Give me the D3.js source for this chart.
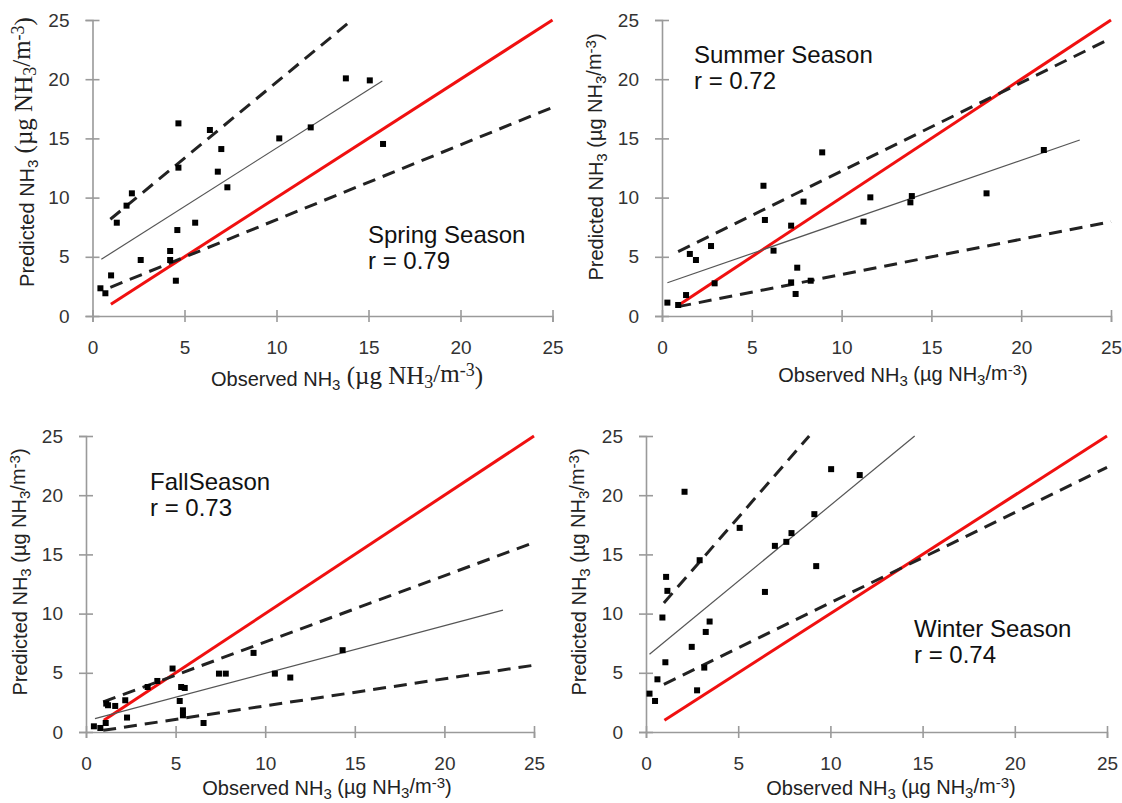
<!DOCTYPE html>
<html>
<head>
<meta charset="utf-8">
<script src="https://cdn.jsdelivr.net/npm/d3@7"></script>
<style>
  body { margin: 0; background: #fff; }
  svg { display: block; }
  text { font-family: "Liberation Sans", Arial, sans-serif; }
</style>
</head>
<body>
<svg id="chart" width="1122" height="803"></svg>
<script>
// tick values shared by every panel
const ticks = [0, 5, 10, 15, 20, 25];
// 1:1 line goes from 1 to 25
const oneToOne = [1, 25];

// Spring
const springObs  = [0.43, 0.70, 1.01, 1.32, 1.85, 2.14, 2.62, 4.22, 4.22, 4.53, 4.61, 4.67, 4.67, 5.58, 6.38, 6.81, 7.00, 7.33, 10.15, 11.86, 13.77, 15.07, 15.79];
const springPred = [2.34, 1.92, 3.43, 7.88, 9.32, 10.36, 4.73, 5.49, 4.73, 2.98, 7.26, 12.53, 16.27, 7.88, 15.71, 12.19, 14.10, 10.87, 15.00, 15.93, 20.07, 19.90, 14.53];
const springFit   = [0.48, 4.79, 15.75, 19.85];
const springUpper = [0.97, 8.17, 14.1, 25];
const springLower = [0.97, 2.42, 25, 17.62];

// Summer
const summerObs  = [0.30, 0.90, 1.34, 1.55, 1.89, 2.73, 2.93, 5.65, 5.73, 6.21, 7.19, 7.19, 7.44, 7.53, 7.88, 8.28, 8.92, 11.22, 11.60, 13.83, 13.91, 18.07, 21.26];
const summerPred = [1.13, 0.93, 1.77, 5.24, 4.73, 5.91, 2.76, 11.00, 8.11, 5.52, 7.63, 2.84, 1.86, 4.08, 9.66, 2.98, 13.82, 7.97, 10.02, 9.60, 10.13, 10.36, 14.02];
const summerFit   = [0.3, 2.81, 23.26, 14.86];
const summerUpper = [0.9, 5.43, 25, 23.45];
const summerLower = [0.9, 0.79, 25, 7.97];

// Fall
const fallObs  = [0.44, 0.80, 1.10, 1.13, 1.23, 1.63, 2.19, 2.29, 3.44, 3.98, 4.83, 5.23, 5.31, 5.41, 5.41, 5.51, 6.56, 7.42, 7.80, 9.35, 10.54, 11.40, 14.32];
const fallPred = [0.48, 0.34, 0.76, 2.40, 2.26, 2.20, 2.68, 1.22, 3.80, 4.31, 5.36, 2.62, 3.80, 1.83, 1.41, 3.72, 0.76, 4.93, 4.93, 6.68, 4.93, 4.60, 6.91];
const fallFit   = [0.5, 1.13, 23.27, 10.29];
const fallUpper = [0.96, 2.54, 25, 16.0];
const fallLower = [0.96, 0.14, 25, 5.64];

// Winter
const winterObs  = [0.19, 0.49, 0.62, 0.89, 1.05, 1.09, 1.16, 2.09, 2.48, 2.77, 2.91, 3.16, 3.24, 3.45, 5.08, 6.45, 6.99, 7.61, 7.89, 9.13, 9.23, 10.04, 11.59];
const winterPred = [3.24, 2.62, 4.45, 9.67, 5.89, 13.10, 11.92, 20.29, 7.19, 3.52, 14.51, 5.44, 8.45, 9.33, 17.24, 11.83, 15.72, 16.06, 16.80, 18.40, 14.01, 22.20, 21.70];
const winterFit   = [0.19, 6.57, 14.57, 25];
const winterUpper = [0.97, 10.9, 8.85, 25];
const winterLower = [0.97, 4.03, 25, 22.35];

const seasonNames = ['Spring Season', 'Summer Season', 'FallSeason', 'Winter Season'];
const rLabels = ['r = 0.79', 'r = 0.72', 'r = 0.73', 'r = 0.74'];

// layout of each panel (plot box, label spots) - pixels only
const panels = [
  { obs: springObs, pred: springPred, fit: springFit, upper: springUpper, lower: springLower,
    box: [92.5, 20, 552.5, 316], lab: [368, 243], yt: [34, 152], xt: [347, 386], serif: true },
  { obs: summerObs, pred: summerPred, fit: summerFit, upper: summerUpper, lower: summerLower,
    box: [662, 20, 1111, 316], lab: [694, 63], yt: [603, 157], xt: [903, 382], serif: false },
  { obs: fallObs, pred: fallPred, fit: fallFit, upper: fallUpper, lower: fallLower,
    box: [86, 436, 534, 732], lab: [150, 490], yt: [27, 572], xt: [327, 795], serif: false },
  { obs: winterObs, pred: winterPred, fit: winterFit, upper: winterUpper, lower: winterLower,
    box: [646, 436, 1107, 732], lab: [914, 637], yt: [586, 572], xt: [891, 795], serif: false }
];

const svg = d3.select('#chart');
const serifFont = '"Liberation Serif", "Times New Roman", serif';

function nh3Label(sel, prefix, serif) {
  // "<prefix> NH3 (µg NH3/m-3)"
  const big = serif ? '1.25em' : null;
  const sub = serif ? '0.9em' : '0.75em';
  sel.append('tspan').text(prefix + ' NH');
  sel.append('tspan').text('3').attr('font-size', '0.75em').attr('dy', '0.25em');
  const parts = [
    [' (\u00b5g NH', big, '-0.25em'],
    ['3', sub, '0.25em'],
    ['/m', big, '-0.25em'],
    ['-3', sub, '-0.33em'],
    [')', big, '0.33em']
  ];
  parts.forEach(([t, size, dy]) => {
    const s = sel.append('tspan').text(t).attr('dy', dy);
    if (size) s.attr('font-size', size);
    if (serif) s.attr('font-family', serifFont);
  });
}

panels.forEach((p, i) => {
  const [x0, y0, x1, y1] = p.box;
  const x = d3.scaleLinear().domain([0, 25]).range([x0, x1]);
  const y = d3.scaleLinear().domain([0, 25]).range([y1, y0]);
  const g = svg.append('g');

  // axes
  const xAxis = g.append('g')
    .attr('transform', 'translate(0,' + y1 + ')')
    .call(d3.axisBottom(x).tickValues(ticks).tickSize(6).tickPadding(19));
  const yAxis = g.append('g')
    .attr('transform', 'translate(' + x0 + ',0)')
    .call(d3.axisLeft(y).tickValues(ticks).tickSize(7).tickPadding(16));

  [xAxis, yAxis].forEach(a => {
    a.select('.domain').attr('stroke', '#9a9a9a').attr('stroke-width', 1.6);
    a.selectAll('.tick line').attr('stroke', '#9a9a9a').attr('stroke-width', 1.6);
    a.selectAll('.tick text').attr('fill', '#333').attr('font-size', 19)
      .attr('font-family', '"Liberation Sans", Arial, sans-serif');
  });
  xAxis.selectAll('.tick line').attr('y1', -6).attr('y2', 6);
  yAxis.selectAll('.tick line').attr('x1', -7).attr('x2', 7);

  // 1:1 line
  g.append('line')
    .attr('x1', x(oneToOne[0])).attr('y1', y(oneToOne[0]))
    .attr('x2', x(oneToOne[1])).attr('y2', y(oneToOne[1]))
    .attr('stroke', '#f01010').attr('stroke-width', 3);

  // dashed bounds
  [p.upper, p.lower].forEach(l => {
    g.append('line')
      .attr('x1', x(l[0])).attr('y1', y(l[1]))
      .attr('x2', x(l[2])).attr('y2', y(l[3]))
      .attr('stroke', '#222').attr('stroke-width', 3)
      .attr('stroke-dasharray', '13,8');
  });

  // fit line
  g.append('line')
    .attr('x1', x(p.fit[0])).attr('y1', y(p.fit[1]))
    .attr('x2', x(p.fit[2])).attr('y2', y(p.fit[3]))
    .attr('stroke', '#555').attr('stroke-width', 1.2);

  // points
  g.selectAll('rect.pt')
    .data(p.obs.map((o, k) => [o, p.pred[k]]))
    .join('rect')
    .attr('class', 'pt')
    .attr('x', d => x(d[0]) - 3).attr('y', d => y(d[1]) - 3)
    .attr('width', 6).attr('height', 6)
    .attr('fill', '#000');

  // season label
  g.append('text').attr('x', p.lab[0]).attr('y', p.lab[1])
    .attr('font-size', 24).attr('fill', '#111').text(seasonNames[i]);
  g.append('text').attr('x', p.lab[0]).attr('y', p.lab[1] + 26)
    .attr('font-size', 24).attr('fill', '#111').text(rLabels[i]);

  // axis titles
  const xt = g.append('text')
    .attr('x', p.xt[0]).attr('y', p.xt[1])
    .attr('text-anchor', 'middle').attr('font-size', 20).attr('fill', '#222');
  nh3Label(xt, 'Observed', p.serif);

  const yt = g.append('text')
    .attr('transform', 'translate(' + p.yt[0] + ',' + p.yt[1] + ') rotate(-90)')
    .attr('text-anchor', 'middle').attr('font-size', 20).attr('fill', '#222');
  nh3Label(yt, 'Predicted', p.serif);
});
</script>
</body>
</html>
